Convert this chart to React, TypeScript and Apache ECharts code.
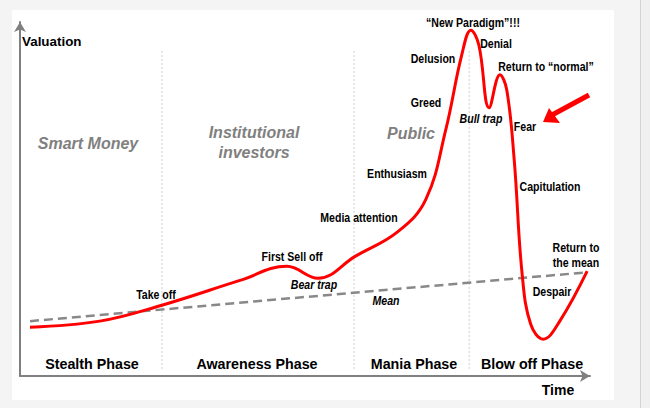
import React, { useEffect, useRef } from "react";
import * as echarts from "echarts";

// Time (0-100) vs valuation (0-100)
const bubbleTime = [1.75, 14.0, 24.9, 38.6, 46.8, 52.3, 58.8, 66.3, 71.2, 74.7, 77.5, 79.1, 80.5, 82.3, 84.2, 85.4, 86.7, 88.1, 89.6, 91.8, 94.7, 99.5];
const bubbleValue = [13.8, 15.5, 20.0, 27.0, 31.0, 27.6, 33.8, 40.8, 49.9, 69.6, 90.7, 97.7, 93.5, 75.8, 85.1, 80.8, 61.1, 28.7, 14.6, 10.4, 15.5, 29.6];
const meanTime = [1.75, 99.5];
const meanValue = [15.5, 29.3];
const phaseBoundaries = [24.9, 58.6, 78.8];
const phaseNames = ["Stealth Phase", "Awareness Phase", "Mania Phase", "Blow off Phase"];
const investorGroups = ["Smart Money", "Institutional\ninvestors", "Public"];

export default function App() {
  const ref = useRef<HTMLDivElement>(null);
  useEffect(() => {
    if (!ref.current) return;
    const chart = echarts.init(ref.current, undefined, { renderer: "svg" });
    const sans = "'Liberation Sans', Arial, sans-serif";
    const t = (text: string, x: number, y: number, opts: any = {}) => ({
      type: "text",
      x,
      y,
      z: 50,
      scaleX: opts.sx ?? 0.88,
      style: {
        text,
        fill: opts.fill || "#000",
        font: opts.font || `bold 12px ${sans}`,
        textAlign: opts.align || "center",
        textVerticalAlign: "middle",
        lineHeight: opts.lh,
      },
    });
    const phaseCenters = [92, 257, 414, 532];
    const groupPos = [
      [88, 143],
      [254, 142],
      [411, 133],
    ];
    const option: any = {
      animation: false,
      backgroundColor: "#f4f4f4",
      grid: { left: 20, right: 60, top: 22, bottom: 32 },
      xAxis: {
        type: "value",
        min: 0,
        max: 100,
        axisLine: { show: true, onZero: false, symbol: ["none", "arrow"], symbolSize: [9, 10], lineStyle: { color: "#808080", width: 2 } },
        axisTick: { show: false },
        axisLabel: { show: false },
        splitLine: { show: false },
      },
      yAxis: {
        type: "value",
        min: 0,
        max: 100,
        axisLine: { show: true, onZero: false, symbol: ["none", "arrow"], symbolSize: [9, 10], lineStyle: { color: "#808080", width: 2 } },
        axisTick: { show: false },
        axisLabel: { show: false },
        splitLine: { show: false },
      },
      series: [
        ...phaseBoundaries.map((b) => ({
          type: "line",
          data: [
            [b, 2],
            [b, 92.4],
          ],
          symbol: "none",
          silent: true,
          lineStyle: { color: "#cfcfcf", width: 1, type: [2, 2] },
          z: 1,
        })),
        {
          type: "line",
          data: meanTime.map((x, i) => [x, meanValue[i]]),
          symbol: "none",
          lineStyle: { color: "#888888", width: 2.5, type: [9, 5] },
          z: 2,
        },
        {
          type: "line",
          data: bubbleTime.map((x, i) => [x, bubbleValue[i]]),
          symbol: "none",
          smooth: 0.4,
          lineStyle: { color: "#ff0000", width: 3 },
          z: 3,
        },
      ],
      graphic: [
        { type: "rect", z: -10, shape: { x: 12, y: 10, width: 602, height: 390 }, style: { fill: "#ffffff" } },
        { type: "rect", z: -10, shape: { x: 640, y: 0, width: 1, height: 408 }, style: { fill: "#d4d4d4" } },
        { type: "rect", z: -10, shape: { x: 641, y: 0, width: 9, height: 408 }, style: { fill: "#f0f0f0" } },
        t("Valuation", 22, 42, { align: "left", font: `bold 13px ${sans}`, sx: 1.03 }),
        t("Time", 558, 390, { font: `bold 14px ${sans}`, sx: 1 }),
        ...phaseNames.map((n, i) => t(n, phaseCenters[i], 364, { font: `bold 14px ${sans}`, sx: 1.02 })),
        ...investorGroups.map((n, i) =>
          t(n, groupPos[i][0], groupPos[i][1], { font: `italic bold 16px ${sans}`, fill: "#808080", lh: 20, sx: 1 })
        ),
        t("Take off", 156, 295),
        t("First Sell off", 292, 257),
        t("Bear trap", 314, 285, { font: `italic bold 12px ${sans}` }),
        t("Media attention", 359, 218),
        t("Enthusiasm", 397, 174),
        t("Mean", 386, 301, { font: `italic bold 12px ${sans}` }),
        t("Greed", 426, 103),
        t("Delusion", 433, 59),
        t("\u201cNew Paradigm\u201d!!!", 473, 23),
        t("Denial", 496, 44),
        t("Return to \u201cnormal\u201d", 546, 67),
        t("Bull trap", 481, 119, { font: `italic bold 12px ${sans}` }),
        t("Fear", 525, 127),
        t("Capitulation", 550, 187),
        t("Return to\nthe mean", 576, 255, { lh: 15 }),
        t("Despair", 552, 292),
        { type: "line", z: 60, shape: { x1: 589, y1: 95, x2: 552, y2: 115 }, style: { stroke: "#ff0000", lineWidth: 5 } },
        { type: "polygon", z: 60, shape: { points: [[543, 122], [549, 108], [560, 123]] }, style: { fill: "#ff0000" } },
      ],
    };
    chart.setOption(option);
    return () => chart.dispose();
  }, []);
  return <div ref={ref} style={{ position: "fixed", left: 0, top: 0, width: 650, height: 408 }} />;
}
